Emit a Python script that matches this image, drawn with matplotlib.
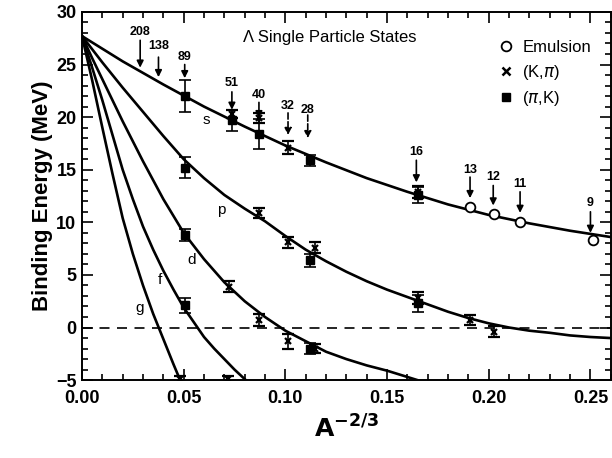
import numpy as np
import matplotlib
matplotlib.use('Agg')
import matplotlib.pyplot as plt
from matplotlib.ticker import MultipleLocator

plt.rcParams['font.family'] = ['Liberation Sans', 'DejaVu Sans']

# fitted curves (x = A^-2/3, y = binding energy in MeV)
s_x = [0.00, 0.02, 0.04, 0.06, 0.08, 0.10, 0.12, 0.14, 0.16, 0.18, 0.20, 0.22, 0.24, 0.26]
s_y = [27.7, 25.3, 23.1, 21.0, 19.1, 17.3, 15.7, 14.2, 12.9, 11.7, 10.7, 9.9, 9.2, 8.6]
p_x = [0.00, 0.01, 0.02, 0.03, 0.04, 0.05, 0.06, 0.07, 0.08, 0.09, 0.10, 0.11, 0.12,
       0.13, 0.14, 0.15, 0.16, 0.17, 0.18, 0.19, 0.20, 0.21, 0.22, 0.23, 0.24, 0.25, 0.26]
p_y = [27.7, 25.2, 22.8, 20.5, 18.2, 16.0, 14.2, 12.6, 11.3, 10.1, 8.7, 7.4, 6.3,
       5.3, 4.4, 3.6, 2.9, 2.2, 1.5, 0.9, 0.4, 0.0, -0.3, -0.5, -0.75, -0.9, -1.0]
d_x = [0.00, 0.005, 0.01, 0.02, 0.03, 0.04, 0.05, 0.06, 0.07, 0.08, 0.09, 0.10, 0.11, 0.12,
       0.13, 0.14, 0.15, 0.16, 0.17]
d_y = [27.7, 25.6, 23.6, 19.6, 15.8, 12.2, 9.0, 6.5, 4.3, 2.5, 1.0, -0.3, -1.3, -2.3,
       -3.0, -3.6, -4.1, -4.7, -5.3]
f_x = [0.00, 0.005, 0.01, 0.015, 0.02, 0.025, 0.03, 0.035, 0.04, 0.045, 0.05, 0.055,
       0.06, 0.065, 0.07, 0.075, 0.08, 0.085]
f_y = [27.7, 24.7, 21.6, 18.3, 15.0, 12.2, 9.6, 7.4, 5.4, 3.6, 1.9, 0.5,
       -0.9, -2.0, -3.0, -4.0, -4.9, -5.8]
g_x = [0.00, 0.005, 0.01, 0.015, 0.02, 0.025, 0.03, 0.035, 0.04, 0.045, 0.05]
g_y = [27.7, 23.5, 19.0, 14.6, 10.4, 7.0, 4.0, 1.3, -1.1, -3.5, -5.8]

curve_labels = ['s', 'p', 'd', 'f', 'g']
label_x = [0.061, 0.0686, 0.054, 0.0385, 0.0284]
label_y = [19.7, 11.2, 6.4, 4.5, 1.9]

# Emulsion data
em_x = [0.1908, 0.2025, 0.2155, 0.2515]
em_y = [11.45, 10.8, 10.0, 8.3]

# (pi,K) data
pk_x = [0.0505, 0.0737, 0.087, 0.112, 0.165, 0.0505, 0.112, 0.165, 0.0505, 0.112, 0.0505]
pk_y = [22.0, 19.7, 18.4, 15.9, 12.6, 15.2, 6.4, 2.3, 8.8, -2.0, 2.1]
pk_err = [1.5, 1.0, 1.4, 0.5, 0.8, 1.0, 0.6, 0.8, 0.6, 0.5, 0.7]

# (K,pi) data
kp_x = [0.0737, 0.087, 0.1015, 0.165, 0.087, 0.1015, 0.1147, 0.165, 0.1908, 0.2025,
        0.0725, 0.087, 0.1015, 0.1147, 0.0718, 0.048]
kp_y = [20.3, 19.9, 17.1, 12.9, 10.9, 8.1, 7.6, 2.8, 0.7, -0.4,
        3.9, 0.7, -1.3, -2.0, -4.9, -4.9]
kp_err = [0.4, 0.5, 0.6, 0.6, 0.5, 0.5, 0.5, 0.6, 0.5, 0.5,
          0.5, 0.6, 0.7, 0.4, 0.3, 0.3]

# mass-number arrows
mass_labels = ['208', '138', '89', '51', '40', '32', '28', '16', '13', '12', '11', '9']
mass_x = [0.0286, 0.0376, 0.0505, 0.0737, 0.087, 0.1013, 0.111, 0.1644, 0.1908, 0.2022, 0.2154, 0.25]
mass_text_y = [28.1, 26.8, 25.7, 23.2, 22.1, 21.1, 20.7, 16.7, 15.0, 14.3, 13.6, 11.8]
arrow_top = [27.3, 25.7, 25.0, 22.4, 21.4, 20.4, 20.2, 15.9, 14.3, 13.5, 12.9, 11.0]
arrow_tip = [24.7, 23.8, 23.7, 20.7, 19.9, 18.3, 18.0, 13.8, 12.3, 11.6, 10.9, 9.0]
dashed_arrows = ['32', '28']

fig, ax = plt.subplots(figsize=(6.12, 4.58), dpi=100)
fig.subplots_adjust(left=0.134, right=0.998, bottom=0.170, top=0.974)

for cx, cy in [(s_x, s_y), (p_x, p_y), (d_x, d_y), (f_x, f_y), (g_x, g_y)]:
    ax.plot(cx, cy, color='black', lw=1.9, zorder=2, solid_joinstyle='round')

ax.axhline(0, color='black', lw=1.2, dashes=(6, 4.5), zorder=1)

for lab, lx, ly in zip(curve_labels, label_x, label_y):
    ax.text(lx, ly, lab, fontsize=11, ha='center', va='center')

ax.errorbar(pk_x, pk_y, yerr=pk_err, fmt='s', color='black', ms=6, capsize=4,
            elinewidth=1.2, capthick=1.2, zorder=3)
ax.errorbar(kp_x, kp_y, yerr=kp_err, fmt='x', color='black', ms=5, mew=1.6,
            capsize=4, elinewidth=1.2, capthick=1.5, zorder=3)
ax.plot(em_x, em_y, 'o', mfc='white', mec='black', ms=7, mew=1.3, zorder=4)

for lab, mx, ty, a0, a1 in zip(mass_labels, mass_x, mass_text_y, arrow_top, arrow_tip):
    ls = '--' if lab in dashed_arrows else '-'
    ax.annotate('', xy=(mx, a1), xytext=(mx, a0),
                arrowprops=dict(arrowstyle='-|>', color='black', lw=1.2,
                                mutation_scale=10, linestyle=ls, shrinkA=0, shrinkB=0))
    ax.text(mx, ty, lab, fontsize=9, fontweight='bold', ha='center', va='center')

ax.text(0.079, 27.6, '\u039b Single Particle States', fontsize=12, ha='left', va='center')

# legend
h_em, = ax.plot([], [], 'o', mfc='white', mec='black', ms=7, mew=1.3)
h_kp, = ax.plot([], [], 'x', color='black', ms=6, mew=1.8)
h_pk, = ax.plot([], [], 's', color='black', ms=6)
ax.legend([h_em, h_kp, h_pk], ['Emulsion', r'(K,$\pi$)', r'($\pi$,K)'],
          loc='upper right', bbox_to_anchor=(0.985, 0.955), frameon=False,
          fontsize=12, handlelength=0.8, handletextpad=0.6, labelspacing=0.45,
          borderpad=0.2)

ax.set_xlim(0, 0.26)
ax.set_ylim(-5, 30)
ax.xaxis.set_major_locator(MultipleLocator(0.05))
ax.xaxis.set_minor_locator(MultipleLocator(0.01))
ax.yaxis.set_major_locator(MultipleLocator(5))
ax.yaxis.set_minor_locator(MultipleLocator(1))
ax.xaxis.set_major_formatter(plt.FormatStrFormatter('%.2f'))
ax.tick_params(which='both', direction='in', top=True, right=True, width=1.2)
ax.tick_params(which='major', length=8, labelsize=13)
ax.tick_params(axis='x', which='major', pad=7)
ax.tick_params(axis='y', which='major', pad=4)
ax.tick_params(which='minor', length=4)
for lbl in ax.get_xticklabels() + ax.get_yticklabels():
    lbl.set_fontweight('bold')
for sp in ax.spines.values():
    sp.set_linewidth(1.4)

ax.set_ylabel('Binding Energy (MeV)', fontsize=16, fontweight='bold', labelpad=2)
ax.set_xlabel(r'$\mathbf{A}^{\mathbf{-2/3}}$', fontsize=18, labelpad=6)

fig.savefig('out.png', dpi=100)
